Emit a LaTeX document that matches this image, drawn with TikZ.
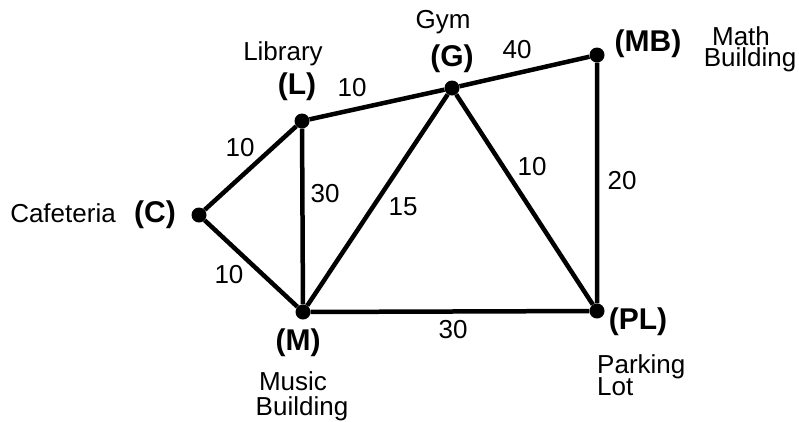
\documentclass[tikz,border=0pt]{standalone}
\usepackage{fontspec}
\setmainfont{Liberation Sans}
\begin{document}
\begin{tikzpicture}[x=1pt,y=-1pt,
  edge/.style={line width=4.5pt},
  vtx/.style={circle,fill=black,inner sep=0pt,minimum size=15pt},
  nm/.style={font=\fontsize{30}{30}\selectfont\bfseries,inner sep=0pt,anchor=base},
  lbl/.style={font=\fontsize{26}{26}\selectfont,inner sep=0pt,anchor=base},
  wt/.style={font=\fontsize{26}{26}\selectfont,inner sep=0pt}]
\useasboundingbox (0,0) rectangle (799,421);
\node[vtx] (C) at (199,215) {};
\node[vtx] (L) at (302,121) {};
\node[vtx] (G) at (452,88) {};
\node[vtx] (MB) at (597,55) {};
\node[vtx] (M) at (303,312) {};
\node[vtx] (PL) at (597,311) {};
\draw[edge] (C) -- (L) (C) -- (M) (L) -- (G) (G) -- (MB) (L) -- (M)
  (M) -- (G) (G) -- (PL) (MB) -- (PL) (M) -- (PL);
\node[nm] (nC) at (155,222) {(C)};
\node[lbl] (tC) at (63,222) {Cafeteria};
\node[nm] (nL) at (297,94) {(L)};
\node[lbl] (tL) at (283,60) {Library};
\node[nm] (nG) at (452,66) {(G)};
\node[lbl] (tG) at (443,28) {Gym};
\node[nm] (nMB) at (648,51) {(MB)};
\node[lbl] (tMB1) at (741,45) {Math};
\node[lbl] (tMB2) at (750,66) {Building};
\node[nm] (nM) at (298,350) {(M)};
\node[lbl] (tM1) at (293,390) {Music};
\node[lbl] (tM2) at (302,415) {Building};
\node[nm] (nPL) at (638,329) {(PL)};
\node[lbl,anchor=base west] (tPL1) at (597,373) {Parking};
\node[lbl,anchor=base west] (tPL2) at (597,395) {Lot};
\node[wt] (w1) at (240,148) {10};
\node[wt] (w2) at (229,275) {10};
\node[wt] (w3) at (352,88) {10};
\node[wt] (w4) at (517,50) {40};
\node[wt] (w5) at (325,194) {30};
\node[wt] (w6) at (403,207) {15};
\node[wt] (w7) at (532,167) {10};
\node[wt] (w8) at (622,181) {20};
\node[wt] (w9) at (453,330) {30};
\end{tikzpicture}
\end{document}
